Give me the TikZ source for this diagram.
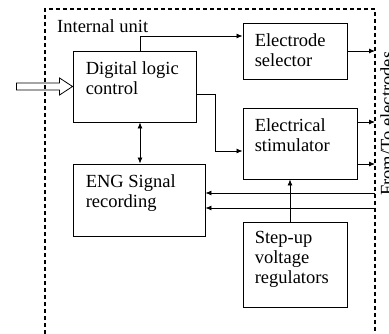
\documentclass[tikz,border=0pt]{standalone}
\usepackage{fontspec}
\setmainfont{Liberation Serif}
\usetikzlibrary{arrows.meta,calc}
\begin{document}
\begin{tikzpicture}[x=1pt,y=-1pt,
  box/.style={draw, line width=0.9pt, rectangle, inner sep=0pt},
  txt/.style={anchor=north west, inner sep=0pt, align=left, font=\fontsize{18.5}{20}\selectfont},
  arr/.style={line width=0.8pt, -{Latex[length=6pt,width=5pt]}},
  biarr/.style={line width=0.8pt, {Latex[length=6pt,width=5pt]}-{Latex[length=6pt,width=5pt]}},
  border/.style={line width=1.1pt, dash pattern=on 4pt off 3pt},
  hollow/.style={line width=0.8pt}]
\useasboundingbox (0,0) rectangle (389,334);

% border of internal unit
\draw[border] (45,334) -- (45,9) -- (375,9) -- (375,334);
\coordinate (rb) at (375,0);
\node[txt] (title) at (57,19.5) {Internal unit};

% boxes
\node[box, minimum width=123pt, minimum height=71pt] (dlc) at (134.5,86.5) {};
\node[box, minimum width=104pt, minimum height=56pt] (es) at (295,51) {};
\node[box, minimum width=114pt, minimum height=71pt] (stim) at (300,143.5) {};
\node[box, minimum width=132pt, minimum height=72pt] (eng) at (139,200) {};
\node[box, minimum width=104pt, minimum height=85pt] (sup) at (295,264.5) {};

% box texts
\node[txt] (dlct) at ($(dlc.north west)+(13,11)$) {Digital logic\\control};
\node[txt] (est) at ($(es.north west)+(12,10.5)$) {Electrode\\selector};
\node[txt] (stimt) at ($(stim.north west)+(12,11)$) {Electrical\\stimulator};
\node[txt] (engt) at ($(eng.north west)+(13,11)$) {ENG Signal\\recording};
\node[txt] (supt) at ($(sup.north west)+(12,10)$) {Step-up\\voltage\\regulators};

% side label
\node[txt, rotate=90] (ext) at (380,196) {From/To electrodes};

% input hollow arrow
\draw[hollow] ($(dlc.west)+(-56,-3.5)$) -- ($(dlc.west)+(-13,-3.5)$) -- ($(dlc.west)+(-13,-8.5)$)
  -- (dlc.west) -- ($(dlc.west)+(-13,8.5)$) -- ($(dlc.west)+(-13,3.5)$) -- ($(dlc.west)+(-56,3.5)$) -- cycle;

% connectors
\draw[arr] ([xshift=5.5pt]dlc.north) |- ([yshift=15pt]es.west);
\draw[arr] (es.east) -- (es.east -| rb);
\draw[arr] ([yshift=-7.5pt]dlc.east) -- ++(19,0) |- ([yshift=-7.5pt]stim.west);
\draw[arr] ([yshift=21.5pt]stim.east) -- ([yshift=21.5pt]stim.east -| rb);
\draw[arr] ([yshift=-20.5pt]stim.east) -- ([yshift=-20.5pt]stim.east -| rb);
\draw[biarr] ([xshift=5.5pt]dlc.south) -- ([xshift=5.5pt]dlc.south |- eng.north);
\draw[arr] ([yshift=7pt]eng.east -| rb) -- ([yshift=7pt]eng.east);
\draw[arr] ([yshift=-8pt]eng.east -| rb) -- ([yshift=-8pt]eng.east);
\draw[arr] ([xshift=-5pt]sup.north) -- ([xshift=-5pt]sup.north |- stim.south);
\end{tikzpicture}
\end{document}
